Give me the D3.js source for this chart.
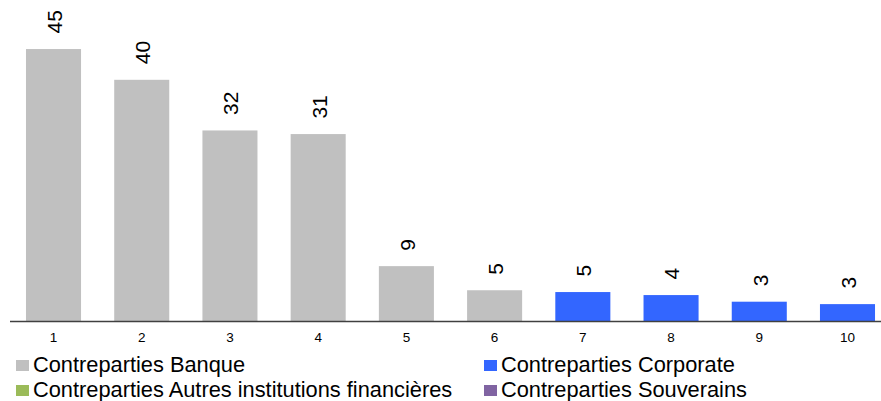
<!DOCTYPE html>
<html>
<head>
<meta charset="utf-8">
<script src="https://cdn.jsdelivr.net/npm/d3@7"></script>
<style>
  html, body { margin: 0; padding: 0; background: #fff; }
  svg { display: block; font-family: "Liberation Sans", Arial, sans-serif; }
</style>
</head>
<body>
<svg id="chart" width="881" height="401"></svg>
<script>
const categories = ["1","2","3","4","5","6","7","8","9","10"];
const values = [45.1, 40.0, 31.6, 31.0, 9.1, 5.1, 4.8, 4.3, 3.2, 2.8];
const series = ["Banque","Banque","Banque","Banque","Banque","Banque","Corporate","Corporate","Corporate","Corporate"];
const legendLabels = ["Contreparties Banque", "Contreparties Corporate", "Contreparties Autres institutions financières", "Contreparties Souverains"];
const legendKeys = ["Banque", "Corporate", "Autres", "Souverains"];
const colorRange = ["#C0C0C0", "#3366FF", "#9BBB59", "#8064A2"];

const svg = d3.select("#chart");
const color = d3.scaleOrdinal().domain(legendKeys).range(colorRange);

const x = d3.scaleBand().domain(categories).range([9.4, 891.6]).paddingInner(0.376).paddingOuter(0.188);
const y = d3.scaleLinear().domain([0, 50]).range([321, 19.5]);

// bars
svg.append("g").selectAll("rect").data(categories).join("rect")
  .attr("x", d => x(d))
  .attr("width", x.bandwidth())
  .attr("y", (d, i) => y(values[i]))
  .attr("height", (d, i) => y(0) - y(values[i]))
  .attr("fill", (d, i) => color(series[i]));

// value labels (rotated)
svg.append("g").selectAll("text").data(categories).join("text")
  .attr("transform", (d, i) => `translate(${x(d) + x.bandwidth() / 2 + 1},${y(values[i]) - 15.5}) rotate(-90)`)
  .attr("dy", "0.35em")
  .attr("text-anchor", "start")
  .attr("font-size", "21px")
  .attr("fill", "#000")
  .text((d, i) => d3.format(".0f")(values[i]));

// x axis
const xAxis = d3.axisBottom(x).tickSize(0).tickPadding(11);
const gx = svg.append("g").attr("transform", `translate(0,${y(0)})`).call(xAxis);
gx.select(".domain").attr("d", `M10,0.5H881`).attr("stroke", "#404040").attr("stroke-width", 1.3);
gx.selectAll(".tick text").attr("font-size", "13.5px").attr("font-family", "Liberation Sans, Arial, sans-serif").attr("fill", "#000");

// legend
const legendPos = [[16, 372], [484, 372], [16, 397], [484, 397]];
const lg = svg.append("g").selectAll("g").data(legendLabels).join("g")
  .attr("transform", (d, i) => `translate(${legendPos[i][0]},${legendPos[i][1]})`);
lg.append("rect").attr("x", 0).attr("y", -12).attr("width", 13).attr("height", 11)
  .attr("fill", (d, i) => color(legendKeys[i]));
lg.append("text").attr("x", 17).attr("y", 0).attr("font-size", "21.8px").attr("fill", "#000").text(d => d);
</script>
</body>
</html>
